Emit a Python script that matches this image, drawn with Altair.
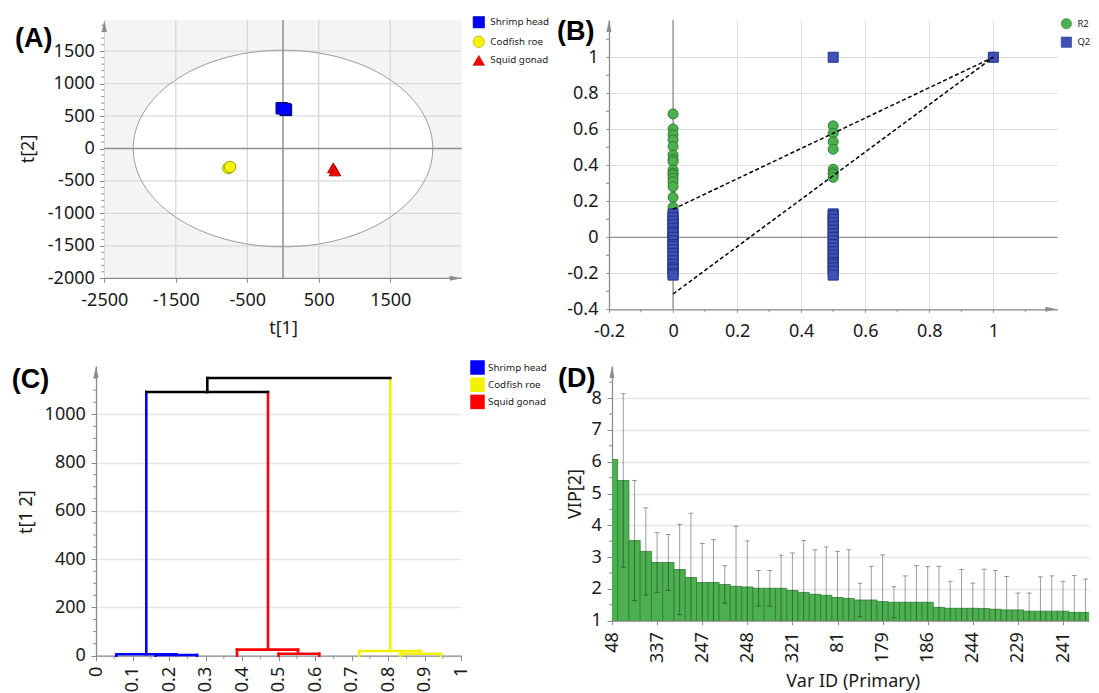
import altair as alt
import numpy as np
import pandas as pd

FONT = "Noto Sans"
PANEL_FONT = "Liberation Sans"
AXIS_GRAY = "#8c8c8c"
GRID = "#dedede"
TEXT = "#1a1a1a"
LBL = "toString(datum.value)"

# ---------------- data ----------------
groups = ["Shrimp head", "Codfish roe", "Squid gonad"]

# (A) score scatter t[1] / t[2]
a_group = ["Shrimp head", "Shrimp head", "Shrimp head",
           "Codfish roe", "Codfish roe", "Squid gonad", "Squid gonad"]
a_t1 = [-18, 42, 25, -765, -741, 703, 727]
a_t2 = [620, 595, 608, -303, -284, -299, -345]
a_ellipse = [2095, 1515]
a_fill = ["#0000ff", "#f5f500", "#ff0000"]
a_edge = ["#000090", "#a0a000", "#a00000"]
a_shape = ["square", "circle", "triangle-up"]
a_xticks = [-2500, -1500, -500, 500, 1500]
a_yticks = [-2000, -1500, -1000, -500, 0, 500, 1000, 1500]
a_xgrid = [-1500, -500, 500, 1500]
a_ygrid = [-1500, -1000, -500, 500, 1000, 1500]

# (B) permutation test (R2 / Q2)
b_r2_0 = [0.685, 0.602, 0.569, 0.541, 0.504, 0.457, 0.433, 0.42, 0.374, 0.356,
          0.346, 0.328, 0.309, 0.281, 0.222, 0.167, 0.133, 0.096, 0.05, 0.022, 0.004]
b_r2_05 = [0.619, 0.578, 0.531, 0.489, 0.378, 0.359, 0.35, 0.333]
b_r2_1 = [1.0]
b_q2_0 = [0.13, 0.11, 0.09, 0.07, 0.05, 0.03, 0.02, 0.0, -0.02, -0.04, -0.05,
          -0.07, -0.09, -0.11, -0.13, -0.15, -0.17, -0.18, -0.2, -0.21]
b_q2_05 = [1.0, 0.13, 0.12, 0.1, 0.08, 0.06, 0.04, 0.02, 0.0, -0.02, -0.04,
           -0.06, -0.08, -0.1, -0.12, -0.14, -0.15, -0.17, -0.19, -0.21]
b_q2_1 = [1.0]
b_line_x = [0, 1]
b_r2_line = [0.156, 1.0]
b_q2_line = [-0.315, 1.0]
b_series = ["R2", "Q2"]
b_fill = ["#4caf50", "#3f51b5"]
b_edge = ["#2e7d32", "#22308a"]

# (C) dendrogram segments
c_x1 = [0.1377, 0.0556, 0.0556, 0.22, 0.163, 0.163, 0.2765,
        0.4708, 0.386, 0.386, 0.553, 0.5, 0.5, 0.611,
        0.8056, 0.721, 0.721, 0.888, 0.833, 0.833, 0.944]
c_x2 = [0.1377, 0.22, 0.0556, 0.22, 0.2765, 0.163, 0.2765,
        0.4708, 0.553, 0.386, 0.553, 0.611, 0.5, 0.611,
        0.8056, 0.888, 0.721, 0.888, 0.944, 0.833, 0.944]
c_y1 = [6, 6, 0, 3, 3, 0, 0,
        25, 25, 0, 8, 8, 0, 0,
        19.5, 19.5, 0, 8, 8, 0, 0]
c_y2 = [1092, 6, 6, 6, 3, 3, 3,
        1092, 25, 25, 25, 8, 8, 8,
        1150, 19.5, 19.5, 19.5, 8, 8, 8]
c_grp = ["Shrimp head"] * 7 + ["Squid gonad"] * 7 + ["Codfish roe"] * 7
c_link_x1 = [0.1377, 0.3047, 0.3047]
c_link_x2 = [0.4708, 0.3047, 0.8056]
c_link_y1 = [1092, 1092, 1150]
c_link_y2 = [1092, 1150, 1150]
c_cols = ["#0000ff", "#f2f200", "#ff0000"]

# (D) VIP plot
d_vip = [6.07, 5.41, 3.52, 3.18, 2.83, 2.83, 2.61, 2.36, 2.20, 2.20, 2.14,
         2.08, 2.06, 2.02, 2.02, 2.02, 1.95, 1.89, 1.83, 1.80, 1.73, 1.70,
         1.65, 1.65, 1.60, 1.58, 1.58, 1.58, 1.58, 1.42, 1.39, 1.39, 1.39,
         1.38, 1.36, 1.34, 1.34, 1.30, 1.30, 1.30, 1.30, 1.26, 1.26, 1.25]
d_ci = [0, 2.73, 1.89, 1.37, 0.94, 0.88, 1.42, 2.02, 1.23, 1.35, 0.59,
        1.89, 1.45, 0.56, 0.56, 1.04, 1.18, 1.63, 1.40, 1.52, 1.45, 1.53,
        0.53, 1.06, 1.47, 0.49, 0.83, 1.15, 1.12, 1.29, 0.85, 1.22, 0.79,
        1.24, 1.22, 1.05, 0.53, 0.57, 1.08, 1.11, 0.94, 1.16, 1.05, 0]
d_labels = ["48", "337", "247", "248", "321", "81", "179", "186", "244", "229", "241"]

ONE = pd.DataFrame({"k": [0]})
IND = dict(fill="independent", shape="independent", stroke="independent")

# page-pixel layout: plot origins of the four panels and the cell boxes
# (A and C share one origin column; A's own axis sits SHIFT_A px inside it)
ORIG = {"A": (96, 20), "B": (609, 20), "C": (96, 366), "D": (612, 366)}
SHIFT_A = 8.3
COL_SPLIT = 553
ROW_SPLIT = 350
PAGE_R, PAGE_B = 1089, 690


# ---------------- helpers ----------------
def guard(p, x0, y0, x1, y1):
    ox, oy = ORIG[p]
    return alt.Chart(ONE).mark_rule(opacity=0, strokeOpacity=0, strokeWidth=0).encode(
        x=alt.value(x0 - ox), x2=alt.value(x1 - ox), y=alt.value(y0 - oy), y2=alt.value(y1 - oy))


def arrow_up(x=0):
    return alt.Chart(ONE).mark_point(shape="M0,-1L0.42,1L-0.42,1Z", filled=True, size=144,
                                     color=AXIS_GRAY, opacity=1, strokeWidth=0).encode(
        x=alt.value(x), y=alt.value(6))


def arrow_right(w, h):
    return alt.Chart(ONE).mark_point(shape="M1,0L-1,-0.42L-1,0.42Z", filled=True, size=144,
                                     color=AXIS_GRAY, opacity=1, strokeWidth=0).encode(
        x=alt.value(w - 6), y=alt.value(h))


def panel_label(p, txt, px, py):
    ox, oy = ORIG[p]
    return alt.Chart(pd.DataFrame({"t": [txt]})).mark_text(
        font=PANEL_FONT, fontSize=27, fontWeight="bold", align="left",
        baseline="alphabetic", color="black").encode(
        text="t:N", x=alt.value(px - ox), y=alt.value(py - oy))


def yminor(vals, Y, length=3, x0=0):
    return alt.Chart(pd.DataFrame({"v": vals})).mark_rule(color=AXIS_GRAY, strokeWidth=1).encode(
        y=Y("v"), x=alt.value(x0), x2=alt.value(x0 - length))


def xminor(vals, X, h, length=3):
    return alt.Chart(pd.DataFrame({"v": vals})).mark_rule(color=AXIS_GRAY, strokeWidth=1).encode(
        x=X("v"), y=alt.value(h), y2=alt.value(h + length))


def minor_vals(lo, hi, step, major):
    out = []
    for v in np.arange(lo, hi + step / 2, step):
        v = round(float(v), 4)
        if abs(v / major - round(v / major)) > 1e-6:
            out.append(v)
    return out


# ---------------- (A) ----------------
PX_A = 357.4 / 5000.0
WA, HA = 357.4 + SHIFT_A, 258.3
xsA = alt.Scale(domain=[-2500 - SHIFT_A / PX_A, 2500], nice=False, zero=False)
ysA = alt.Scale(domain=[-2000, 1980], nice=False, zero=False)
axA_x = alt.Axis(values=a_xticks, grid=False, domain=False, tickSize=4, labelPadding=9.5,
                 labelExpr=LBL, labelOverlap=False, labelFlush=False,
                 title="t[1]", titleX=SHIFT_A + 178.7, titleY=50, titleBaseline="middle",
                 titleAlign="center")
axA_y = alt.Axis(values=a_yticks, grid=False, tickSize=5, labelPadding=5, offset=-SHIFT_A,
                 labelExpr=LBL, labelOverlap=False, labelFlush=False,
                 title="t[2]", titleX=-76, titleY=128.5, titleBaseline="middle",
                 titleAlign="center", titleAngle=270)


def XA(f):
    return alt.X(f, type="quantitative", scale=xsA, axis=axA_x)


def YA(f):
    return alt.Y(f, type="quantitative", scale=ysA, axis=axA_y)


XA_L = alt.X(datum=-2500, type="quantitative", scale=xsA, axis=axA_x)
XA_R = alt.X2(datum=2500)

th = np.linspace(0, np.pi, 121)
ell_area = pd.DataFrame({"x": a_ellipse[0] * np.cos(th),
                         "y": a_ellipse[1] * np.sin(th),
                         "y2": -a_ellipse[1] * np.sin(th)})
th2 = np.linspace(0, 2 * np.pi, 241)
ell_line = pd.DataFrame({"x": a_ellipse[0] * np.cos(th2),
                         "y": a_ellipse[1] * np.sin(th2),
                         "i": np.arange(len(th2))})
dfA = pd.DataFrame({"t1": a_t1, "t2": a_t2, "group": a_group})

legA = alt.Legend(orient="none", legendX=472.3 - 96, legendY=-4.3, title=None, padding=0,
                  symbolSize=130, labelFontSize=9.8, labelOffset=5, rowPadding=4.6,
                  symbolStrokeColor="#666666", symbolStrokeWidth=0.6)

bgA = alt.Chart(ONE).mark_rect(color="#f4f4f4").encode(
    x=alt.value(SHIFT_A), x2=alt.value(WA), y=alt.value(0), y2=alt.value(HA))
areaA = alt.Chart(ell_area).mark_area(color="white", opacity=1).encode(
    x=XA("x"), y=YA("y"), y2="y2:Q")
gxA = alt.Chart(pd.DataFrame({"v": a_xgrid})).mark_rule(color="#d8d8d8", strokeWidth=1.3).encode(x=XA("v"))
gyA = alt.Chart(pd.DataFrame({"v": a_ygrid})).mark_rule(color="#d8d8d8", strokeWidth=1.3).encode(
    y=YA("v"), x=XA_L, x2=XA_R)
zxA = alt.Chart(pd.DataFrame({"v": [0]})).mark_rule(color="#8f8f8f", strokeWidth=1.5).encode(x=XA("v"))
zyA = alt.Chart(pd.DataFrame({"v": [0]})).mark_rule(color="#8f8f8f", strokeWidth=1.5).encode(
    y=YA("v"), x=XA_L, x2=XA_R)
xdomA = alt.Chart(ONE).mark_rule(color=AXIS_GRAY, strokeWidth=1.3).encode(
    x=XA_L, x2=XA_R, y=alt.value(HA))
lineA = alt.Chart(ell_line).mark_line(color="#9a9a9a", strokeWidth=1).encode(
    x=XA("x"), y=YA("y"), order="i:Q")
ptsA = alt.Chart(dfA).mark_point(filled=True, size=130, strokeWidth=1, opacity=1).encode(
    x=XA("t1"), y=YA("t2"),
    fill=alt.Fill("group:N", scale=alt.Scale(domain=groups, range=a_fill), legend=legA),
    shape=alt.Shape("group:N", scale=alt.Scale(domain=groups, range=a_shape), legend=legA),
    stroke=alt.Stroke("group:N", scale=alt.Scale(domain=groups, range=a_edge), legend=None))

A = alt.layer(guard("A", 0, 0, COL_SPLIT, ROW_SPLIT),
              bgA, areaA, gxA, gyA, zxA, zyA, lineA, xdomA,
              yminor(minor_vals(-2000, 1900, 100, 500), YA, x0=SHIFT_A),
              ptsA, arrow_up(SHIFT_A), arrow_right(WA, HA),
              panel_label("A", "(A)", 15, 47.3)).properties(width=WA, height=HA)

# ---------------- (B) ----------------
WB, HB = 448.4, 289.3
xsB = alt.Scale(domain=[-0.2, 1.2], nice=False, zero=False)
ysB = alt.Scale(domain=[-0.4, 1.207], nice=False, zero=False)
axB_x = alt.Axis(values=[-0.2, 0, 0.2, 0.4, 0.6, 0.8, 1.0], grid=True, gridColor=GRID,
                 tickSize=3, labelPadding=10.3, labelExpr=LBL,
                 labelOverlap=False, labelFlush=False, title=None)
axB_y = alt.Axis(values=[-0.4, -0.2, 0, 0.2, 0.4, 0.6, 0.8, 1.0], grid=True, gridColor=GRID,
                 tickSize=3, labelPadding=8, labelExpr=LBL,
                 labelOverlap=False, labelFlush=False, title=None)


def XB(f):
    return alt.X(f, type="quantitative", scale=xsB, axis=axB_x)


def YB(f):
    return alt.Y(f, type="quantitative", scale=ysB, axis=axB_y)


rows = []
for xv, vals in [(0, b_r2_0), (0.5, b_r2_05), (1, b_r2_1)]:
    rows += [("R2", xv, v) for v in vals]
for xv, vals in [(0, b_q2_0), (0.5, b_q2_05), (1, b_q2_1)]:
    rows += [("Q2", xv, v) for v in vals]
dfB = pd.DataFrame(rows, columns=["series", "x", "y"])
dfBl = pd.DataFrame({"series": ["R2"] * 2 + ["Q2"] * 2,
                     "x": b_line_x + b_line_x,
                     "y": b_r2_line + b_q2_line})

legB = alt.Legend(orient="none", legendX=451.9, legendY=-1.8, title=None, padding=0,
                  symbolSize=105, labelFontSize=9.5, labelOffset=5.5, rowPadding=5.5,
                  symbolStrokeColor="#555555", symbolStrokeWidth=0.6)

zxB = alt.Chart(pd.DataFrame({"v": [0]})).mark_rule(color="#8f8f8f", strokeWidth=1.3).encode(x=XB("v"))
zyB = alt.Chart(pd.DataFrame({"v": [0]})).mark_rule(color="#8f8f8f", strokeWidth=1.3).encode(y=YB("v"))
ptsB = alt.Chart(dfB).mark_point(filled=True, strokeWidth=1, opacity=1, size=100).encode(
    x=XB("x"), y=YB("y"),
    fill=alt.Fill("series:N", scale=alt.Scale(domain=b_series, range=b_fill), legend=legB),
    shape=alt.Shape("series:N", scale=alt.Scale(domain=b_series, range=["circle", "square"]), legend=legB),
    stroke=alt.Stroke("series:N", scale=alt.Scale(domain=b_series, range=b_edge), legend=None))
linesB = alt.Chart(dfBl).mark_line(color="black", strokeWidth=1.5, strokeDash=[4, 2.5]).encode(
    x=XB("x"), y=YB("y"), detail="series:N")

B = alt.layer(guard("B", COL_SPLIT, 0, PAGE_R, ROW_SPLIT),
              zxB, zyB,
              yminor(minor_vals(-0.3, 1.1, 0.1, 0.2), YB),
              xminor(minor_vals(-0.1, 1.1, 0.1, 0.2), XB, HB),
              ptsB, linesB, arrow_up(), arrow_right(WB, HB),
              panel_label("B", "(B)", 557, 40)).properties(width=WB, height=HB)

# ---------------- (C) ----------------
WC, HC = 365.3, 289.7
xsC = alt.Scale(domain=[0, 1], nice=False, zero=False)
ysC = alt.Scale(domain=[0, 1200], nice=False, zero=False)
axC_x = alt.Axis(values=[0, 0.1, 0.2, 0.3, 0.4, 0.5, 0.6, 0.7, 0.8, 0.9, 1], grid=False,
                 tickSize=5, labelPadding=5.6, labelAngle=270, labelExpr=LBL,
                 labelOverlap=False, labelFlush=False, title=None)
axC_y = alt.Axis(values=[0, 200, 400, 600, 800, 1000], grid=True, gridColor="#e6e6e6", gridWidth=1.5,
                 tickSize=5, labelPadding=5.7, labelExpr=LBL, labelOverlap=False, labelFlush=False,
                 title="t[1 2]", titleX=-69.3, titleY=145.7, titleBaseline="middle",
                 titleAlign="center", titleAngle=270)


def XC(f):
    return alt.X(f, type="quantitative", scale=xsC, axis=axC_x)


def YC(f):
    return alt.Y(f, type="quantitative", scale=ysC, axis=axC_y)


dfC = pd.DataFrame({"x1": c_x1, "x2": c_x2, "y1": c_y1, "y2": c_y2, "g": c_grp})
dfCl = pd.DataFrame({"x1": c_link_x1, "x2": c_link_x2, "y1": c_link_y1, "y2": c_link_y2})
legC = alt.Legend(orient="none", legendX=374, legendY=-6, title=None, padding=0,
                  symbolType="square", symbolSize=210, symbolStrokeColor="transparent",
                  symbolStrokeWidth=0, labelFontSize=9.8, labelOffset=3, rowPadding=2.2)

segC = alt.Chart(dfC).mark_rule(strokeWidth=2.6, strokeCap="square").encode(
    x=XC("x1"), x2="x2:Q", y=YC("y1"), y2="y2:Q",
    stroke=alt.Stroke("g:N", scale=alt.Scale(domain=groups, range=c_cols), legend=None),
    fill=alt.Fill("g:N", scale=alt.Scale(domain=groups, range=c_cols), legend=legC))
linkC = alt.Chart(dfCl).mark_rule(color="black", strokeWidth=2.6, strokeCap="square").encode(
    x=XC("x1"), x2="x2:Q", y=YC("y1"), y2="y2:Q")

C = alt.layer(guard("C", 0, ROW_SPLIT, COL_SPLIT, PAGE_B),
              yminor(minor_vals(50, 1150, 50, 200), YC),
              xminor(minor_vals(0.05, 0.95, 0.05, 0.1), XC, HC),
              segC, linkC, arrow_up(),
              panel_label("C", "(C)", 11.7, 387.6)).properties(width=WC, height=HC)

# ---------------- (D) ----------------
WD, HD = PAGE_R - ORIG["D"][0], 254.7
xsD = alt.Scale(domain=[0, WD / 11.275], nice=False, zero=False)
ysD = alt.Scale(domain=[1, 1 + HD / 31.8], nice=False, zero=False)
lab_arr = "[" + ",".join("'%s'" % s for s in d_labels) + "]"
axD_x = alt.Axis(values=list(range(0, 41, 4)), grid=False, tickSize=4, labelPadding=7,
                 labelAngle=270, labelExpr=lab_arr + "[round(datum.value / 4)]",
                 labelOverlap=False, labelFlush=False,
                 title="Var ID (Primary)", titleX=240.8, titleY=61,
                 titleBaseline="middle", titleAlign="center")
axD_y = alt.Axis(values=[1, 2, 3, 4, 5, 6, 7, 8], grid=True, gridColor="#e6e6e6", gridWidth=1.5,
                 tickSize=5, labelPadding=5.6, labelExpr=LBL, labelOverlap=False, labelFlush=False,
                 title="VIP[2]", titleX=-36.5, titleY=127.5, titleBaseline="middle",
                 titleAlign="center", titleAngle=270)


def XD(f):
    return alt.X(f, type="quantitative", scale=xsD, axis=axD_x)


def YD(f):
    return alt.Y(f, type="quantitative", scale=ysD, axis=axD_y)


idx = np.arange(len(d_vip))
dfD = pd.DataFrame({"idx": idx, "vip": d_vip, "ci": d_ci})
dfD["lo"] = dfD["idx"] - 0.5
dfD["hi"] = dfD["idx"] + 0.5
dfD["top"] = dfD["vip"] + dfD["ci"]
dfD["bot"] = dfD["vip"] - dfD["ci"]
dfD["cl"] = dfD["idx"] - 0.22
dfD["cr"] = dfD["idx"] + 0.22
dfE = dfD[dfD["ci"] > 0]

barsD = alt.Chart(dfD).mark_rect(fill="#4caf50", stroke="#2e7d32", strokeWidth=0.8, clip=True).encode(
    x=XD("lo"), x2="hi:Q", y=YD("vip"), y2=alt.datum(1))
errD = alt.Chart(dfE).mark_rule(color="black", opacity=0.38, strokeWidth=1, clip=True).encode(
    x=XD("idx"), y=YD("bot"), y2="top:Q")
capTop = alt.Chart(dfE).mark_rule(color="black", opacity=0.38, strokeWidth=1, clip=True).encode(
    x=XD("cl"), x2="cr:Q", y=YD("top"))
capBot = alt.Chart(dfE).mark_rule(color="black", opacity=0.38, strokeWidth=1, clip=True).encode(
    x=XD("cl"), x2="cr:Q", y=YD("bot"))

D = alt.layer(guard("D", COL_SPLIT, ROW_SPLIT, PAGE_R, PAGE_B),
              barsD, errD, capTop, capBot,
              yminor(minor_vals(1.5, 8.5, 0.5, 1), YD),
              arrow_up(),
              panel_label("D", "(D)", 557.9, 387.3)).properties(width=WD, height=HD)

top_row = alt.hconcat(A, B, spacing=0).resolve_scale(**IND).resolve_legend(**IND)
bottom_row = alt.hconcat(C, D, spacing=0).resolve_scale(**IND).resolve_legend(**IND)
chart = alt.vconcat(top_row, bottom_row, spacing=0).resolve_scale(**IND).resolve_legend(**IND).properties(
    padding={"left": -8, "top": -8, "right": 0, "bottom": 0}
).configure_view(strokeWidth=0).configure_axis(
    domainColor=AXIS_GRAY, domainWidth=1.3, tickColor=AXIS_GRAY, tickWidth=1,
    labelFont=FONT, labelFontSize=18, labelColor=TEXT,
    titleFont=FONT, titleFontSize=18, titleFontWeight="normal", titleColor=TEXT
).configure_legend(labelFont=FONT, labelColor="#222222")

chart.save("out.html", embed_options={"renderer": "svg", "actions": False})
